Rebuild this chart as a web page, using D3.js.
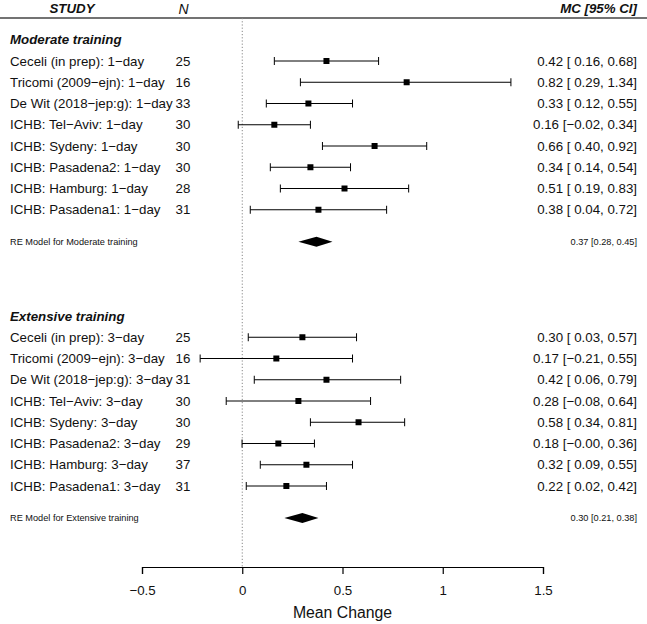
<!DOCTYPE html>
<html><head><meta charset="utf-8">
<script src="https://cdn.jsdelivr.net/npm/d3@7"></script>
<style>
body{margin:0;background:#fff;}
svg text{font-family:"Liberation Sans",Arial,Helvetica,sans-serif;fill:#111;}
</style></head>
<body>
<svg id="chart" width="647" height="624"></svg>
<script>
// ---- data ----
const groups = ["Moderate training", "Extensive training"];
const moderateStudies = ["Ceceli (in prep): 1\u2212day","Tricomi (2009\u2212ejn): 1\u2212day","De Wit (2018\u2212jep:g): 1\u2212day","ICHB: Tel\u2212Aviv: 1\u2212day","ICHB: Sydeny: 1\u2212day","ICHB: Pasadena2: 1\u2212day","ICHB: Hamburg: 1\u2212day","ICHB: Pasadena1: 1\u2212day"];
const moderateN = [25,16,33,30,30,30,28,31];
const moderateEst = [0.42,0.82,0.33,0.16,0.66,0.34,0.51,0.38];
const moderateLo = [0.16,0.29,0.12,-0.02,0.40,0.14,0.19,0.04];
const moderateHi = [0.68,1.34,0.55,0.34,0.92,0.54,0.83,0.72];
const moderateRE = {label:"RE Model for Moderate training", est:0.37, lo:0.28, hi:0.45};

const extensiveStudies = ["Ceceli (in prep): 3\u2212day","Tricomi (2009\u2212ejn): 3\u2212day","De Wit (2018\u2212jep:g): 3\u2212day","ICHB: Tel\u2212Aviv: 3\u2212day","ICHB: Sydeny: 3\u2212day","ICHB: Pasadena2: 3\u2212day","ICHB: Hamburg: 3\u2212day","ICHB: Pasadena1: 3\u2212day"];
const extensiveN = [25,16,31,30,30,29,37,31];
const extensiveEst = [0.30,0.17,0.42,0.28,0.58,0.18,0.32,0.22];
const extensiveLo = [0.03,-0.21,0.06,-0.08,0.34,-0.001,0.09,0.02];
const extensiveHi = [0.57,0.55,0.79,0.64,0.81,0.36,0.55,0.42];
const extensiveRE = {label:"RE Model for Extensive training", est:0.30, lo:0.21, hi:0.38};

const xTicks = [-0.5,0,0.5,1,1.5];

// ---- build rows ----
const rows = [];
function addGroup(title, startRow, names, ns, est, lo, hi, re){
  rows.push({type:"head", row:startRow, label:title});
  names.forEach((n,i)=>rows.push({type:"study", row:startRow+1+i, label:n, n:ns[i], est:est[i], lo:lo[i], hi:hi[i]}));
  rows.push({type:"re", row:startRow+names.length+1.5, label:re.label, est:re.est, lo:re.lo, hi:re.hi});
}
addGroup(groups[0], 0, moderateStudies, moderateN, moderateEst, moderateLo, moderateHi, moderateRE);
addGroup(groups[1], 13, extensiveStudies, extensiveN, extensiveEst, extensiveLo, extensiveHi, extensiveRE);

const svg = d3.select("#chart");
const x = d3.scaleLinear().domain([-0.5,1.5]).range([142,543]);
const y = d3.scaleLinear().domain([1,21]).range([61,486]);
const axisY = 567, headerLineY = 18;

const f2 = v => (v<0 ? "\u2212" : "") + Math.abs(v).toFixed(2);
const fLo = v => (v<0 ? "\u2212" : " ") + Math.abs(v).toFixed(2);

// header
svg.append("line").attr("x1",0).attr("x2",647).attr("y1",headerLineY).attr("y2",headerLineY)
  .attr("stroke","#444").attr("stroke-width",1.3);
svg.append("text").attr("x",72).attr("y",8).attr("dy","0.35em").attr("text-anchor","middle")
  .style("font-size","13.3px").style("font-weight","bold").style("font-style","italic").text("STUDY");
svg.append("text").attr("x",183.5).attr("y",9).attr("dy","0.35em").attr("text-anchor","middle")
  .style("font-size","14px").style("font-style","italic").text("N");
svg.append("text").attr("x",637).attr("y",8).attr("dy","0.35em").attr("text-anchor","end")
  .style("font-size","13.3px").style("font-weight","bold").style("font-style","italic").text("MC [95% CI]");

// zero reference line
svg.append("line").attr("x1",x(0)).attr("x2",x(0)).attr("y1",headerLineY).attr("y2",axisY)
  .attr("stroke","#888").attr("stroke-width",1).attr("stroke-dasharray","1.2,2");

const g = svg.append("g");
rows.forEach(r=>{
  const yy = y(r.row);
  if(r.type==="head"){
    g.append("text").attr("x",10).attr("y",yy).attr("dy","0.35em")
      .style("font-size","13.3px").style("font-weight","bold").style("font-style","italic").text(r.label);
  } else if(r.type==="study"){
    g.append("text").attr("x",10).attr("y",yy).attr("dy","0.35em").style("font-size","13.3px").text(r.label);
    g.append("text").attr("x",175.5).attr("y",yy).attr("dy","0.35em").style("font-size","13.3px").text(r.n);
    g.append("line").attr("x1",x(r.lo)).attr("x2",x(r.hi)).attr("y1",yy).attr("y2",yy).attr("stroke","#000").attr("stroke-width",1);
    [r.lo,r.hi].forEach(v=>g.append("line").attr("x1",x(v)).attr("x2",x(v)).attr("y1",yy-4).attr("y2",yy+4).attr("stroke","#000").attr("stroke-width",1));
    g.append("rect").attr("x",x(r.est)-3).attr("y",yy-3).attr("width",6).attr("height",6).attr("fill","#000");
    g.append("text").attr("x",637).attr("y",yy).attr("dy","0.35em").attr("text-anchor","end")
      .style("font-size","13.3px").style("white-space","pre").attr("xml:space","preserve")
      .text(f2(r.est)+" ["+fLo(r.lo)+", "+f2(r.hi)+"]");
  } else {
    g.append("text").attr("x",10).attr("y",yy).attr("dy","0.35em").style("font-size","9.2px").text(r.label);
    g.append("path").attr("d",`M${x(r.lo)},${yy}L${x(r.est)},${yy-5}L${x(r.hi)},${yy}L${x(r.est)},${yy+5}Z`).attr("fill","#000");
    g.append("text").attr("x",637).attr("y",yy).attr("dy","0.35em").attr("text-anchor","end")
      .style("font-size","9.2px").text(f2(r.est)+" ["+f2(r.lo)+", "+f2(r.hi)+"]");
  }
});

// axis
const axis = d3.axisBottom(x).tickValues(xTicks).tickSize(7).tickSizeOuter(7)
  .tickFormat(d => d<0 ? "\u2212"+Math.abs(d) : String(d));
const ax = svg.append("g").attr("transform",`translate(0,${axisY})`).call(axis);
ax.select(".domain").attr("stroke","#000").attr("stroke-width",1.2);
ax.selectAll(".tick line").attr("stroke","#000").attr("stroke-width",1.2);
ax.selectAll(".tick text").attr("y",19).style("font-size","13.3px").style("font-family","'Liberation Sans',Arial,sans-serif").attr("fill","#111");
svg.append("text").attr("x",(x(-0.5)+x(1.5))/2).attr("y",612).attr("dy","0.35em").attr("text-anchor","middle")
  .style("font-size","15.8px").text("Mean Change");
</script>
</body></html>
